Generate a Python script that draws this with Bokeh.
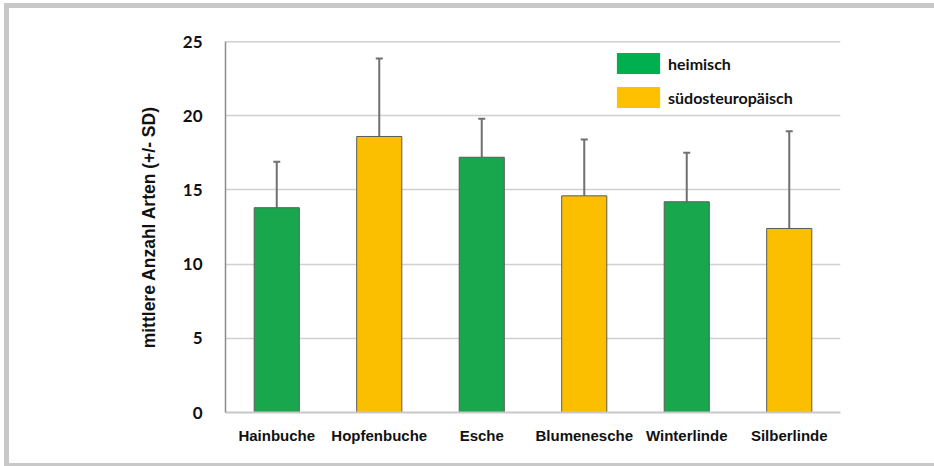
from bokeh.plotting import figure
from bokeh.models import (ColumnDataSource, FixedTicker, Whisker, TeeHead, Span,
                          Legend, LegendItem)
from bokeh.embed import file_html
from bokeh.resources import INLINE

categories = ["Hainbuche", "Hopfenbuche", "Esche", "Blumenesche", "Winterlinde", "Silberlinde"]
means = [13.8, 18.6, 17.2, 14.6, 14.2, 12.4]
sds = [3.1, 5.25, 2.6, 3.8, 3.3, 6.55]
groups = ["heimisch", "südosteuropäisch", "heimisch", "südosteuropäisch", "heimisch", "südosteuropäisch"]
y_ticks = [0, 5, 10, 15, 20, 25]

bar_colors = {"heimisch": "#18a74c", "südosteuropäisch": "#fcbf00"}
legend_colors = {"heimisch": "#00b050", "südosteuropäisch": "#ffc000"}

src = ColumnDataSource(dict(
    cat=categories,
    top=means,
    upper=[m + s for m, s in zip(means, sds)],
    color=[bar_colors[g] for g in groups],
))

W, H = 934, 466
p = figure(x_range=categories, y_range=(0, 25), width=W, height=H,
           output_backend="svg", toolbar_location=None,
           min_border_left=225, min_border_right=94, min_border_top=41, min_border_bottom=54)
g = "linear-gradient(#c8c8c8, #c8c8c8)"
p.styles = {
    "position": "fixed", "left": "0px", "top": "0px",
    "background-color": "white",
    "background-image": f"{g}, {g}, {g}",
    "background-size": "5px 463px, 930px 5px, 930px 3px",
    "background-position": "4px 3px, 4px 3px, 4px 463px",
    "background-repeat": "no-repeat",
}
p.outline_line_color = None
p.background_fill_color = "white"
p.border_fill_alpha = 0

# grid
p.xgrid.grid_line_color = None
p.ygrid.ticker = FixedTicker(ticks=y_ticks)
p.ygrid.grid_line_color = "#d0d0d0"
p.ygrid.grid_line_width = 1.5
p.add_layout(Span(location=25, dimension="width", line_color="#a0a0a0", line_width=1.5))

# bars
p.vbar(x="cat", top="top", width=0.44, source=src, fill_color="color",
       line_color="#5a5a5a", line_width=1)

# error bars
p.add_layout(Whisker(base="cat", lower="top", upper="upper", source=src, dimension="height",
                     line_color="#707070", line_width=2,
                     upper_head=TeeHead(size=7, line_color="#707070", line_width=2),
                     lower_head=None))

# axes
p.yaxis.ticker = FixedTicker(ticks=y_ticks)
p.yaxis.major_tick_line_color = None
p.yaxis.minor_tick_line_color = None
p.yaxis.axis_line_color = "#8c8c8c"
p.yaxis.axis_line_width = 1.5
p.yaxis.major_label_standoff = 17
p.yaxis.major_label_text_font = "Lato"
p.yaxis.major_label_text_font_style = "bold"
p.yaxis.major_label_text_font_size = "17px"
p.yaxis.major_label_text_color = "#111111"
p.yaxis.axis_label = "mittlere Anzahl Arten (+/- SD)"
p.yaxis.axis_label_text_font = "Liberation Sans"
p.yaxis.axis_label_text_font_style = "bold"
p.yaxis.axis_label_text_font_size = "17.5px"
p.yaxis.axis_label_text_color = "#111111"
p.yaxis.axis_label_standoff = 21

p.xaxis.major_tick_line_color = None
p.xaxis.axis_line_color = "#c8c8c8"
p.xaxis.axis_line_width = 2
p.xaxis.major_label_standoff = 8
p.xaxis.major_label_text_font = "Liberation Sans"
p.xaxis.major_label_text_font_style = "bold"
p.xaxis.major_label_text_font_size = "15px"
p.xaxis.major_label_text_color = "#111111"

# legend (dummy renderers placed below the visible range)
items = []
for grp in ["heimisch", "südosteuropäisch"]:
    r = p.vbar(x=[categories[0]], top=[-5], bottom=[-6], width=0.44,
               fill_color=legend_colors[grp], line_color=None)
    items.append(LegendItem(label=grp, renderers=[r]))
leg = Legend(items=items, location=(386, 302), padding=0, margin=0, spacing=8,
             glyph_width=54, glyph_height=26, label_height=26, label_standoff=3,
             label_text_font="Lato", label_text_font_style="bold", label_text_font_size="16px",
             label_text_color="#111111", border_line_color=None, background_fill_alpha=0)
p.add_layout(leg)

open("out.html", "w").write(file_html(p, INLINE))
